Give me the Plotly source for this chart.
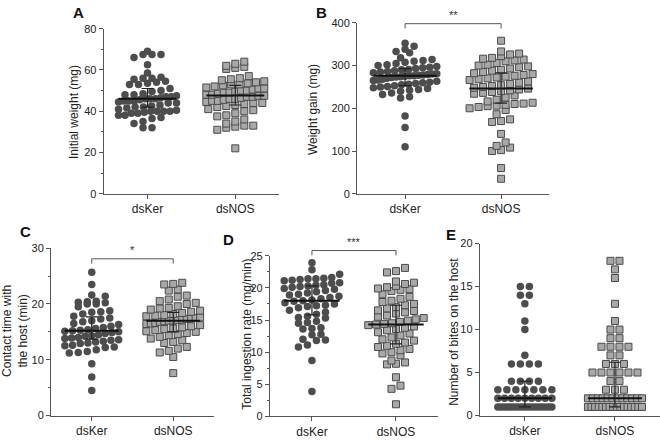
import plotly.graph_objects as go

groups = ["dsKer", "dsNOS"]

# --- A: initial weight (mg)
a_dsker = [69, 67.5, 67.5, 67.5, 66, 62.5, 58.5, 56.5, 56, 56, 55.5, 54.5, 54, 53.5, 53, 53,
           51, 50, 49.5, 48.5, 48, 48, 47.5, 47, 47, 46.5, 46, 46, 46, 45.5, 45, 45, 45, 44.5,
           44, 44, 43, 42.5, 42, 42, 41.5, 41, 40.5, 40, 40, 40, 40, 39.5, 39, 39, 38, 38, 37,
           36.5, 35, 34, 32, 32]
a_dsnos = [64, 63, 62, 61.5, 61, 60.5, 57, 56, 55.5, 55, 54.5, 54, 53.5, 53, 53, 52.5, 52,
           51.5, 51, 51, 50.5, 50, 50, 49.5, 49, 49, 48.5, 48, 48, 47.5, 47.5, 47, 47, 46.5,
           46, 46, 45.5, 45, 45, 44.5, 44, 44, 43.5, 43, 42.5, 42, 41, 40.5, 40, 39, 38, 37.5,
           36, 35, 34, 33, 33, 32.5, 32, 31, 22]
a_median = [46.0, 47.6]
a_low = [42.0, 43.0]
a_high = [51.0, 52.5]

# --- B: weight gain (mg)
b_dsker = [352, 345, 338, 333, 330, 318, 314, 312, 310, 308, 305, 302, 300, 298, 296, 295,
           293, 291, 290, 288, 286, 285, 283, 281, 280, 279, 278, 277, 276, 276, 275, 274,
           273, 272, 270, 268, 266, 265, 263, 261, 260, 258, 256, 255, 253, 251, 250, 248,
           246, 244, 242, 240, 236, 232, 227, 224, 182, 155, 110]
b_dsnos = [358, 333, 328, 326, 322, 318, 316, 314, 312, 310, 306, 302, 300, 298, 296, 293,
           290, 288, 285, 282, 280, 278, 276, 274, 272, 270, 268, 266, 263, 260, 257, 254,
           252, 250, 248, 246, 244, 242, 240, 238, 236, 234, 230, 225, 220, 216, 213, 211,
           210, 208, 206, 205, 203, 200, 196, 186, 174, 170, 168, 140, 120, 112, 108, 102,
           100, 60, 35]
b_median = [276, 246]
b_low = [253, 212]
b_high = [293, 283]

# --- C: contact time with the host (min)
c_dsker = [25.7, 23.5, 21.6, 21.4, 20.5, 20.4, 20.3, 20.2, 20.0, 20.0, 19.5, 18.8, 18.6,
           18.5, 18.2, 17.8, 17.5, 17.3, 17.0, 16.8, 16.5, 16.3, 16.0, 15.8, 15.6, 15.4,
           15.3, 15.2, 15.1, 15.0, 14.9, 14.7, 14.5, 14.3, 14.2, 14.0, 13.9, 13.8, 13.6,
           13.5, 13.3, 13.2, 13.0, 12.9, 12.6, 12.5, 12.3, 12.2, 11.8, 11.5, 11.3, 11.2,
           9.3, 6.9, 4.5]
c_dsnos = [23.8, 23.6, 23.5, 22.6, 22.4, 21.5, 21.3, 20.8, 20.5, 20.2, 20.0, 19.6, 19.3,
           19.2, 19.0, 18.8, 18.6, 18.4, 18.2, 18.0, 17.9, 17.8, 17.6, 17.5, 17.4, 17.3,
           17.2, 17.1, 17.0, 17.0, 16.9, 16.8, 16.6, 16.5, 16.4, 16.2, 16.0, 15.8, 15.6,
           15.5, 15.3, 15.1, 15.0, 14.8, 14.6, 14.4, 14.1, 13.8, 13.5, 13.2, 13.0, 12.3,
           12.0, 11.6, 11.3, 10.5, 7.6]
c_median = [15.2, 17.0]
c_low = [13.7, 15.0]
c_high = [17.7, 18.5]

# --- D: total ingestion rate (mg/min)
d_dsker = [23.9, 22.8, 22.1, 21.6, 21.5, 21.4, 21.4, 21.3, 21.2, 21.1, 20.8, 20.7, 20.5,
           20.4, 20.3, 20.2, 20.1, 19.9, 19.8, 19.6, 19.4, 19.2, 19.0, 18.9, 18.7, 18.5,
           18.3, 18.1, 18.0, 17.9, 17.7, 17.5, 17.3, 17.2, 17.1, 16.9, 16.5, 16.2, 15.9,
           15.6, 15.4, 15.3, 14.8, 14.6, 14.5, 13.8, 13.7, 13.6, 12.8, 12.7, 12.0, 11.9,
           11.8, 11.1, 10.8, 8.7, 3.9]
d_dsnos = [23.1, 22.6, 22.4, 21.0, 20.8, 20.6, 20.3, 20.1, 19.9, 19.8, 19.7, 19.5, 19.0,
           18.6, 18.3, 18.0, 17.8, 17.5, 17.3, 17.0, 16.8, 16.5, 16.4, 16.2, 16.0, 15.7,
           15.5, 15.3, 15.1, 14.9, 14.7, 14.5, 14.4, 14.3, 14.2, 14.0, 13.8, 13.6, 13.4,
           13.1, 12.9, 12.6, 12.3, 12.0, 11.8, 11.5, 11.3, 11.0, 10.8, 10.5, 10.3, 10.0,
           9.8, 9.5, 8.7, 8.4, 8.2, 8.1, 6.1, 4.8, 4.3, 1.9]
d_median = [18.0, 14.3]
d_low = [15.8, 11.3]
d_high = [20.3, 17.3]

# --- E: number of bites on the host
e_dsker = [15, 15, 14, 14, 13, 11, 10, 7, 6, 6, 6, 6, 4, 4, 4, 4, 3, 3, 3, 3, 3, 3, 3,
           2, 2, 2, 2, 2, 2, 2, 2, 2, 1, 1, 1, 1, 1, 1, 1, 1, 1, 1, 1, 1, 1, 1, 1, 1, 1, 1]
e_dsnos = [18, 18, 17, 16, 13, 11, 10, 10, 9, 9, 8, 8, 8, 8, 7, 7, 6, 6, 6, 5, 5, 5, 5, 5,
           5, 4, 4, 3, 3, 3, 2, 2, 2, 2, 2, 2, 2, 2, 2, 2, 2, 2, 1, 1, 1, 1, 1, 1, 1, 1, 1,
           1, 1, 1, 1, 1, 1, 1]
e_median = [2, 2]
e_low = [1, 1]
e_high = [4, 6.2]

W, H = 660, 440
DOT = "#4d4d4d"
SQ_FILL = "#a8a8a8"
SQ_LINE = "#4a4a4a"
AXIS = "#555555"
FONT = "Liberation Sans, Arial, sans-serif"

panels = [
    dict(key="A", data=(a_dsker, a_dsnos), stats=(a_median, a_low, a_high),
         xdom=[0.157, 0.423], ydom=[0.5614, 0.947], ymax=80, dtick=20, minor=10,
         title="Initial weight (mg)", tpos=(74, 109), lpos=(78, 7), width=0.33, sig=None),
    dict(key="B", data=(b_dsker, b_dsnos), stats=(b_median, b_low, b_high),
         xdom=[0.541, 0.832], ydom=[0.5614, 0.9607], ymax=400, dtick=100, minor=None,
         title="Weight gain (mg)", tpos=(313, 107), lpos=(321, 7), width=0.33, sig=("**", 398)),
    dict(key="C", data=(c_dsker, c_dsnos), stats=(c_median, c_low, c_high),
         xdom=[0.0773, 0.3242], ydom=[0.0432, 0.4341], ymax=30, dtick=10, minor=5,
         title="Contact time with<br>the host (min)", tpos=(15, 334), lpos=(25, 232),
         width=0.33, sig=("*", 28.1)),
    dict(key="D", data=(d_dsker, d_dsnos), stats=(d_median, d_low, d_high),
         xdom=[0.409, 0.6636], ydom=[0.0409, 0.4166], ymax=25, dtick=5, minor=2.5,
         title="Total ingestion rate (mg/min)", tpos=(247, 338), lpos=(228, 240),
         width=0.33, sig=("***", 25.8)),
    dict(key="E", data=(e_dsker, e_dsnos), stats=(e_median, e_low, e_high),
         xdom=[0.727, 1.0], ydom=[0.0432, 0.4448], ymax=20, dtick=5, minor=None,
         title="Number of bites on the host", tpos=(454, 335), lpos=(451, 235),
         width=0.3, sig=None),
]


def swarm(values, center, xpx, ypx, half_width, size=7.5, gap=9.0):
    # GraphPad-style column scatter: bin by pixel row, spread each row around the center
    rows = {}
    for v in sorted(values):
        rows.setdefault(int(round(v * ypx / size)), []).append(v)
    xs, ys = [], []
    for vs in rows.values():
        n = len(vs)
        step = min(gap / xpx, 2 * half_width / (n - 1)) if n > 1 else 0
        for i, v in enumerate(vs):
            xs.append(center + (i - (n - 1) / 2) * step)
            ys.append(v)
    return xs, ys


fig = go.Figure()
layout = {}

for i, p in enumerate(panels, start=1):
    xa, ya = f"x{i}", f"y{i}"
    xpx = (p["xdom"][1] - p["xdom"][0]) * W / 2.0
    ypx = (p["ydom"][1] - p["ydom"][0]) * H / p["ymax"]

    for j, vals in enumerate(p["data"]):
        xs, ys = swarm(vals, j, xpx, ypx, p["width"])
        if j == 0:
            marker = dict(symbol="circle", size=7.5, color=DOT, line=dict(width=0))
        else:
            marker = dict(symbol="square", size=7, color=SQ_FILL, line=dict(color=SQ_LINE, width=1))
        fig.add_trace(go.Scatter(x=xs, y=ys, mode="markers", marker=marker,
                                 xaxis=xa, yaxis=ya, cliponaxis=False, hoverinfo="skip"))

    med, low, high = p["stats"]
    # median lines
    for j in range(2):
        fig.add_trace(go.Scatter(x=[j - p["width"], j + p["width"]], y=[med[j], med[j]],
                                 mode="lines", line=dict(color="#111111", width=2),
                                 xaxis=xa, yaxis=ya, hoverinfo="skip"))
    # interquartile bars
    fig.add_trace(go.Scatter(
        x=[0, 1], y=med, mode="markers", marker=dict(size=1, color="rgba(0,0,0,0)"),
        error_y=dict(type="data", symmetric=False,
                     array=[h - m for h, m in zip(high, med)],
                     arrayminus=[m - l for m, l in zip(med, low)],
                     width=6, thickness=1.2, color="#222222"),
        xaxis=xa, yaxis=ya, hoverinfo="skip"))

    suffix = "" if i == 1 else str(i)
    layout["xaxis" + suffix] = dict(
        domain=p["xdom"], range=[-0.5, 1.5], anchor=ya, tickvals=[0, 1], ticktext=groups,
        showline=True, linecolor=AXIS, linewidth=1, ticks="outside", ticklen=4,
        tickcolor=AXIS, showgrid=False, zeroline=False,
        tickfont=dict(size=12, color="#222222", family=FONT))
    yax = dict(
        domain=p["ydom"], range=[0, p["ymax"]], anchor=xa, dtick=p["dtick"],
        showline=True, linecolor=AXIS, linewidth=1, ticks="outside", ticklen=4,
        tickcolor=AXIS, showgrid=False, zeroline=False,
        tickfont=dict(size=11, color="#222222", family=FONT))
    if p["minor"]:
        yax["minor"] = dict(dtick=p["minor"], ticks="outside", ticklen=2, tickcolor=AXIS,
                            showgrid=False)
    layout["yaxis" + suffix] = yax

    # panel letter
    fig.add_annotation(x=p["lpos"][0] / W, y=1 - p["lpos"][1] / H, xref="paper", yref="paper",
                       xanchor="center", yanchor="middle",
                       text=f"<b>{p['key']}</b>", showarrow=False,
                       font=dict(size=15, color="#111111", family=FONT))
    # y-axis title
    fig.add_annotation(x=p["tpos"][0] / W, y=1 - p["tpos"][1] / H, xref="paper", yref="paper",
                       xanchor="center", yanchor="middle",
                       text=p["title"], textangle=-90, showarrow=False,
                       font=dict(size=12, color="#222222", family=FONT))

    # significance bracket
    if p["sig"]:
        label, level = p["sig"]
        yb = p["ydom"][0] + level / p["ymax"] * (p["ydom"][1] - p["ydom"][0])
        drop = 5 / H
        fig.add_shape(type="line", xref=xa, yref="paper", x0=0, x1=1, y0=yb, y1=yb,
                      line=dict(color="#555555", width=1))
        for xe in (0, 1):
            fig.add_shape(type="line", xref=xa, yref="paper", x0=xe, x1=xe, y0=yb, y1=yb - drop,
                          line=dict(color="#555555", width=1))
        fig.add_annotation(x=0.5, y=yb + 1 / H, xref=xa, yref="paper", text=label,
                           showarrow=False, xanchor="center", yanchor="bottom",
                           font=dict(size=11, color="#333333", family=FONT))

fig.update_layout(
    width=W, height=H,
    margin=dict(l=0, r=0, t=0, b=0),
    paper_bgcolor="white", plot_bgcolor="white",
    showlegend=False,
    font=dict(family=FONT, color="#222222"),
    **layout,
)

# the page body has a default 8px margin; drop it so the figure fills the window
fig.write_html("out.html", config={"displayModeBar": False},
               post_script="document.body.style.margin='0';")
